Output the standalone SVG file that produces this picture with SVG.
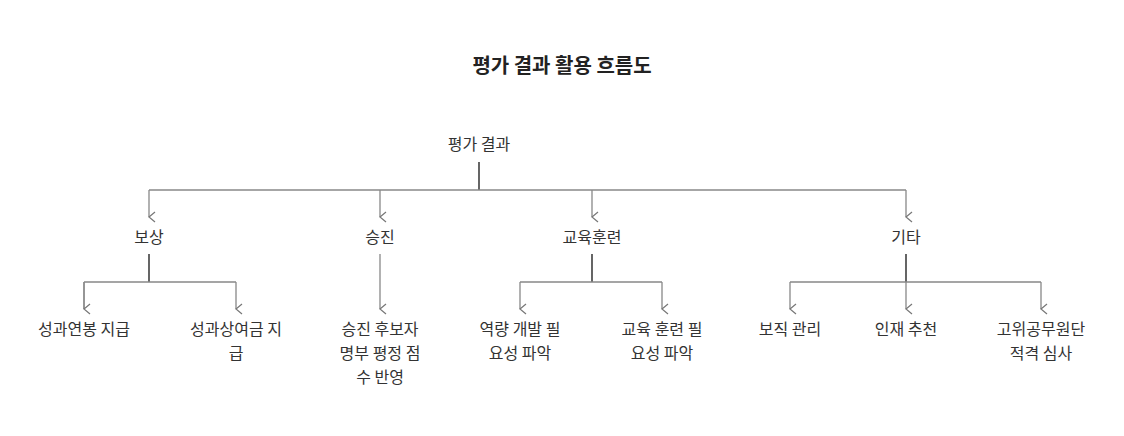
<svg xmlns="http://www.w3.org/2000/svg" width="1124" height="436" viewBox="0 0 1124 436">
<style>
text{font-family:"Noto Sans CJK KR","Noto Sans",sans-serif;fill:#333;text-anchor:middle;font-size:16px}
.t{font-size:20px;font-weight:bold;fill:#222}
.l{fill:none;stroke:#888;stroke-width:1.3}
.s{fill:none;stroke:#555;stroke-width:1.8}
</style>
<defs><marker id="a" markerWidth="12" markerHeight="10" refX="6" refY="8" orient="auto" markerUnits="userSpaceOnUse"><path d="M1,2 L6,8 L11,2" fill="none" stroke="#777" stroke-width="1.2"/></marker></defs>
<rect width="1124" height="436" fill="#fff"/>
<text class="t" x="562" y="73">평가 결과 활용 흐름도</text>
<g id="connectors">
<path class="s" d="M479 162V190"/>
<path class="l" d="M149 190H906"/>
<path class="l" d="M149 190V217" marker-end="url(#a)"/>
<path class="l" d="M380 190V217" marker-end="url(#a)"/>
<path class="l" d="M592 190V217" marker-end="url(#a)"/>
<path class="l" d="M906 190V217" marker-end="url(#a)"/>
<path class="s" d="M149 254V282"/>
<path class="l" d="M84 282H236M84 282V309M236 282V309" marker-end="url(#a)"/>
<path class="l" d="M84 282V309" marker-end="url(#a)"/>
<path class="l" d="M380 254V309" marker-end="url(#a)"/>
<path class="s" d="M592 254V282"/>
<path class="l" d="M520 282H662M662 282V309" marker-end="url(#a)"/>
<path class="l" d="M520 282V309" marker-end="url(#a)"/>
<path class="s" d="M906 254V282"/>
<path class="l" d="M790 282H1041M1041 282V309" marker-end="url(#a)"/>
<path class="l" d="M790 282V309" marker-end="url(#a)"/>
<path class="l" d="M906 282V309" marker-end="url(#a)"/>
</g>
<g id="root"><text x="479" y="150">평가 결과</text></g>
<g id="n1"><text x="149" y="243">보상</text></g>
<g id="n2"><text x="380" y="243">승진</text></g>
<g id="n3"><text x="592" y="243">교육훈련</text></g>
<g id="n4"><text x="906" y="243">기타</text></g>
<g id="n11"><text x="84" y="335">성과연봉 지급</text></g>
<g id="n12"><text x="236" y="335">성과상여금 지</text><text x="236" y="359">급</text></g>
<g id="n21"><text x="380" y="335">승진 후보자</text><text x="380" y="359">명부 평정 점</text><text x="380" y="383">수 반영</text></g>
<g id="n31"><text x="520" y="335">역량 개발 필</text><text x="520" y="359">요성 파악</text></g>
<g id="n32"><text x="662" y="335">교육 훈련 필</text><text x="662" y="359">요성 파악</text></g>
<g id="n41"><text x="790" y="335">보직 관리</text></g>
<g id="n42"><text x="906" y="335">인재 추천</text></g>
<g id="n43"><text x="1041" y="335">고위공무원단</text><text x="1041" y="359">적격 심사</text></g>
</svg>
